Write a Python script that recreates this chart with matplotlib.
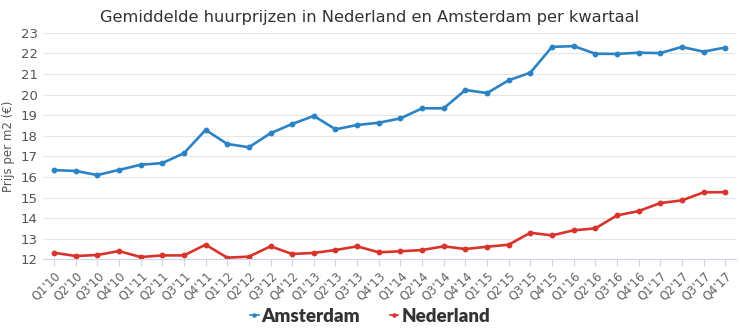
import matplotlib
matplotlib.use("Agg")
import matplotlib.pyplot as plt

# kwartalen Q1'10 .. Q4'17
kwartalen = [f"Q{q}'{j}" for j in range(10, 18) for q in range(1, 5)]

amsterdam = [16.33, 16.29, 16.09, 16.34, 16.59, 16.67, 17.15, 18.28,
             17.60, 17.44, 18.12, 18.57, 18.96, 18.31, 18.52, 18.63,
             18.84, 19.33, 19.33, 20.22, 20.07, 20.69, 21.06, 22.31,
             22.35, 21.98, 21.97, 22.03, 22.01, 22.31, 22.08, 22.28]

nederland = [12.32, 12.16, 12.21, 12.40, 12.11, 12.19, 12.19, 12.71,
             12.08, 12.13, 12.63, 12.26, 12.31, 12.45, 12.63, 12.34,
             12.39, 12.45, 12.63, 12.50, 12.61, 12.71, 13.29, 13.16,
             13.41, 13.50, 14.13, 14.34, 14.73, 14.86, 15.25, 15.26]

blauw = "#2b83c6"
rood = "#d9342b"

fig = plt.figure(figsize=(7.4, 3.3), dpi=100)
ax = fig.add_axes([0.0584, 0.2142, 0.9362, 0.6867])

x = range(len(kwartalen))
ax.plot(x, amsterdam, color=blauw, lw=1.9, marker="o", ms=3.2, label="Amsterdam")
ax.plot(x, nederland, color=rood, lw=1.9, marker="o", ms=3.2, label="Nederland")

ax.set_xlim(-0.5, len(kwartalen) - 0.5)
ax.set_ylim(12, 23)
ax.set_yticks(range(12, 24))
ax.set_xticks(list(x))
ax.set_xticklabels(kwartalen, rotation=45, ha="right", rotation_mode="anchor",
                   fontsize=8.4, color="#606060")
ax.tick_params(axis="y", length=0, labelsize=9.5, labelcolor="#555555", pad=4)
ax.tick_params(axis="x", length=5, color="#ccd6eb", pad=2)

ax.grid(axis="y", color="#e6e6e6", lw=0.8)
ax.set_axisbelow(True)
for s in ("top", "right", "left"):
    ax.spines[s].set_visible(False)
ax.spines["bottom"].set_color("#ccd6eb")

ax.set_ylabel("Prijs per m2 (€)", fontsize=8.5, color="#555555", labelpad=4)
fig.text(0.5, 0.948, "Gemiddelde huurprijzen in Nederland en Amsterdam per kwartaal",
         ha="center", va="center", fontsize=11.7, color="#333333")

leg = fig.legend(loc="center", bbox_to_anchor=(0.5, 0.042), ncol=2, frameon=False,
                 handlelength=0.45, handletextpad=0.15, columnspacing=1.6,
                 markerscale=0.7,
                 prop={"family": "Lato", "weight": "heavy", "size": 13.5},
                 labelcolor="#333333")
for h in leg.legend_handles:
    h.set_linewidth(1.2)

fig.savefig("out.png", dpi=100)
